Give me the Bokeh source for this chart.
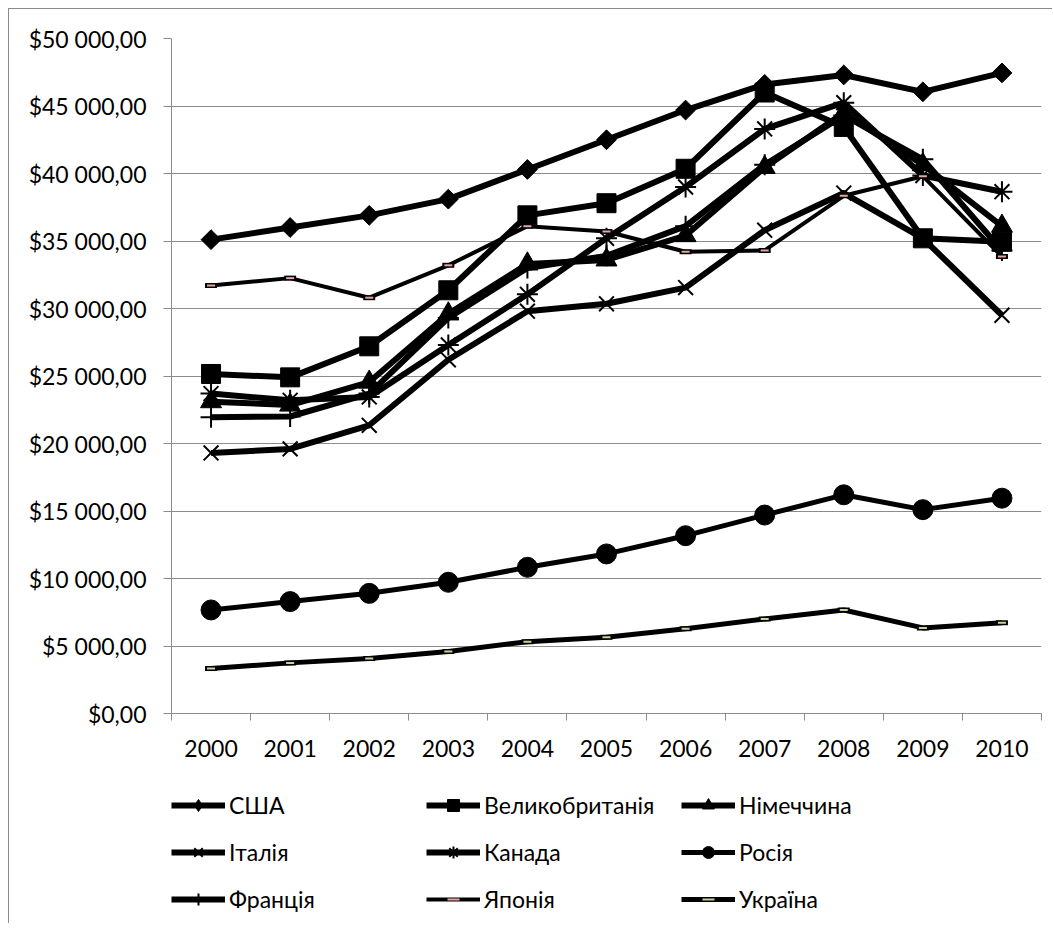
from bokeh.plotting import figure
from bokeh.models import Range1d, FixedTicker, Legend, LegendItem
from bokeh.layouts import column
from bokeh.embed import file_html
from bokeh.resources import INLINE

# ---------------- data ----------------
years = ["2000", "2001", "2002", "2003", "2004", "2005", "2006", "2007", "2008", "2009", "2010"]
usa     = [35100, 36000, 36900, 38100, 40300, 42500, 44700, 46600, 47300, 46050, 47450]
uk      = [25150, 24900, 27200, 31350, 36900, 37800, 40350, 46000, 43450, 35200, 34950]
germany = [23100, 22850, 24550, 29600, 33300, 33600, 35400, 40450, 44500, 40650, 36100]
italy   = [19300, 19600, 21350, 26200, 29800, 30350, 31550, 35800, 38550, 35200, 29500]
canada  = [23700, 23200, 23450, 27300, 31050, 35200, 39000, 43300, 45250, 39850, 38650]
russia  = [7670, 8290, 8900, 9720, 10830, 11820, 13170, 14700, 16200, 15100, 15950]
france  = [21950, 22000, 23700, 29300, 33000, 33900, 36100, 40650, 44300, 41050, 34300]
japan   = [31700, 32250, 30800, 33200, 36100, 35700, 34200, 34300, 38350, 39800, 33850]
ukraine = [3340, 3750, 4070, 4600, 5320, 5640, 6280, 7000, 7670, 6340, 6730]

names = ["США", "Великобританія", "Німеччина", "Італія", "Канада", "Росія",
         "Франція", "Японія", "Україна"]

y_ticks = [0, 5000, 10000, 15000, 20000, 25000, 30000, 35000, 40000, 45000, 50000]
y_tick_labels = ["$0,00", "$5 000,00", "$10 000,00", "$15 000,00", "$20 000,00",
                 "$25 000,00", "$30 000,00", "$35 000,00", "$40 000,00",
                 "$45 000,00", "$50 000,00"]

FONT = "Lato"
FSIZE = "23px"
GRAY = "#8c8c8c"

xs = [i + 0.5 for i in range(len(years))]

# ---------------- main chart ----------------
p = figure(width=1043, height=774, output_backend="svg", toolbar_location=None,
           x_range=Range1d(0, len(years)), y_range=Range1d(0, 50000),
           min_border_left=162, min_border_right=11, min_border_top=29,
           min_border_bottom=70)
p.outline_line_color = None
p.background_fill_color = "white"
p.border_fill_color = "white"

p.xaxis.ticker = FixedTicker(ticks=xs, minor_ticks=list(range(len(years) + 1)))
p.xaxis.major_label_overrides = {x: y for x, y in zip(xs, years)}
p.yaxis.ticker = FixedTicker(ticks=y_ticks)
p.yaxis.major_label_overrides = {t: l for t, l in zip(y_ticks, y_tick_labels)}

for ax in (p.xaxis[0], p.yaxis[0]):
    ax.axis_line_color = GRAY
    ax.axis_line_width = 1
    ax.major_tick_line_color = GRAY
    ax.minor_tick_line_color = GRAY
    ax.major_label_text_font = FONT
    ax.major_label_text_font_size = FSIZE
    ax.major_label_text_color = "black"

p.yaxis.major_tick_out = 8
p.yaxis.major_tick_in = 0
p.yaxis.minor_tick_out = 0
p.yaxis.minor_tick_in = 0
p.yaxis.major_label_standoff = 17

p.xaxis.major_tick_out = 0
p.xaxis.major_tick_in = 0
p.xaxis.minor_tick_out = 7
p.xaxis.minor_tick_in = 0
p.xaxis.major_label_standoff = 19

p.xgrid.visible = False
p.ygrid.grid_line_color = GRAY
p.ygrid.grid_line_width = 1

# ---------------- legend panel ----------------
# the series are drawn here too, outside the visible range, only to feed the legend
lg = figure(width=1043, height=140, output_backend="svg", toolbar_location=None,
            x_range=Range1d(100, 101), y_range=Range1d(0, 1),
            min_border_left=162, min_border_right=11, min_border_top=0,
            min_border_bottom=0)
lg.axis.visible = False
lg.grid.visible = False
lg.outline_line_color = None
lg.background_fill_color = "white"
lg.border_fill_color = "white"

items = []

def add(vals, name, marker=None, size=16, mlw=1, lw=6, angle=0.0, dash_color=None,
        legend_marker=None):
    p.line(xs, vals, line_color="black", line_width=lw, line_join="round")
    rends = [lg.line(xs, vals, line_color="black", line_width=lw)]
    if marker is not None:
        p.scatter(xs, vals, marker=marker, size=size, angle=angle,
                  fill_color="black", line_color="black", line_width=mlw)
        rends.append(lg.scatter(xs, vals, marker=legend_marker or marker, size=size,
                                fill_color="black", line_color="black", line_width=mlw))
    if dash_color is not None:
        p.scatter(xs, vals, marker="dash", size=12, line_color="black", line_width=5)
        p.scatter(xs, vals, marker="dash", size=8, line_color=dash_color, line_width=2)
        rends.append(lg.scatter(xs, vals, marker="dash", size=8,
                                line_color=dash_color, line_width=2))
    items.append(LegendItem(label=name, renderers=rends))

add(usa, names[0], "square", size=14, angle=0.785398, legend_marker="diamond")
add(uk, names[1], "square", size=19)
add(germany, names[2], "triangle", size=21)
add(italy, names[3], "x", size=21, mlw=2)
add(canada, names[4], "asterisk", size=21, mlw=2)
add(russia, names[5], "circle", size=20, lw=5)
add(france, names[6], "cross", size=21, mlw=2)
add(japan, names[7], None, lw=4, dash_color="#e6a5a0")
add(ukraine, names[8], None, lw=5, dash_color="#c4d79b")

legend = Legend(items=items, orientation="horizontal", ncols=3,
                location=(0, 9), padding=0, margin=0,
                border_line_color=None, background_fill_alpha=0,
                glyph_width=54, glyph_height=30, label_height=30,
                label_width=180, label_standoff=4, spacing=17,
                label_text_font=FONT, label_text_font_size=FSIZE,
                label_text_color="black")
lg.add_layout(legend, "center")

layout = column(p, lg, spacing=0)
layout.styles = {"margin-left": "8px", "margin-top": "8px",
                 "border-left": "1px solid " + GRAY, "border-top": "1px solid " + GRAY}

open("out.html", "w").write(file_html(layout, INLINE))
